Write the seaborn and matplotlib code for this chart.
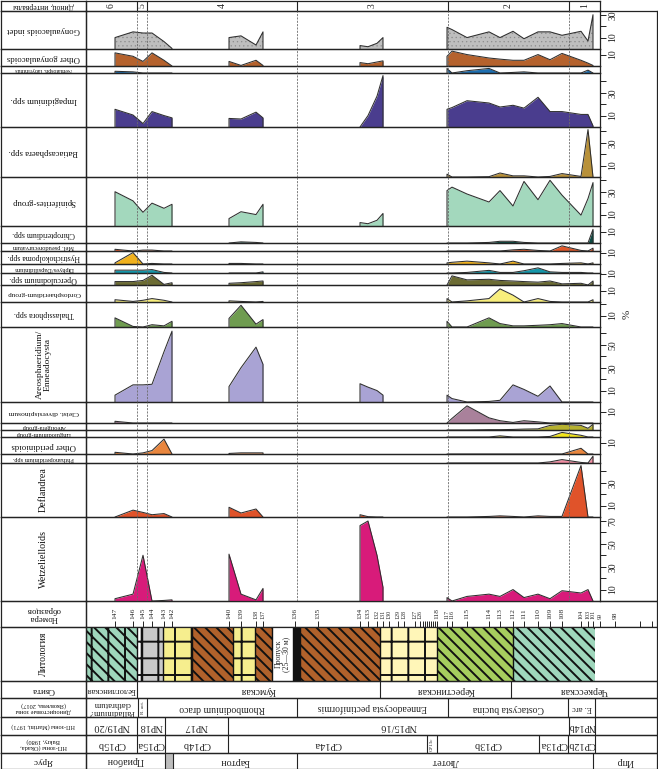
import numpy as np
import matplotlib
matplotlib.use("Agg")
import matplotlib.pyplot as plt
import seaborn as sns

# ------------------------------------------------------------------ data
sample_numbers = [147, 146, 145, 144, 143, 142, 140, 139, 138, 137, 136, 135,
                  134, 133, 132, 131, 130, 129, 128, 127, 126, 125, 124, 123,
                  122, 121, 120, 119, 118, 117, 116, 115, 114, 113, 112, 111,
                  110, 109, 108, 104, 103, 101, 99, 98, 97, 96]
sample_pos = [115, 133, 143, 152, 164, 172, 229, 241, 256, 263, 295, 318,
              360, 368, 377, 383, 389, 398, 404, 415, 420, 423, 425, 427,
              429, 431, 433, 435, 437, 447, 452, 467, 489, 500, 513, 524,
              538, 550, 562, 581, 588, 593, 600, 615, 640, 652]
unlabeled_samples = [125, 124, 123, 122, 121, 120, 119, 97, 96]

group_a = [147, 146, 145, 144, 143, 142]
group_b = [140, 139, 138, 137]
group_c = [134, 133, 132, 131]
group_d = [117, 116, 115, 114, 113, 112, 111, 110, 109, 108, 104, 103, 101]

taxa = ["Gonyaulacoids indet", "Other gonyaulacoids", "Nematosph. labyrinthus",
        "Impagidinium spp.", "Batiacasphaera spp.", "Spiniferites-group",
        "Chiropteridium spp.", "Mel. pseudorecurvatum", "Hystrichokolpoma spp.",
        "Diphyes/Dapsilidinium", "Operculodinium spp.", "Cordosphaeridium-group",
        "Thalassiphora spp.", "Areosphaeridium/\nEnneadocysta",
        "Cleist. diversispinosum", "Areoligera-group", "Lingulodinium-group",
        "Other peridinioids", "Phthanoperidinium spp.", "Deflandrea",
        "Wetzelielloids"]

#            group A                         group B               group C            group D
gony_indet = [10, 15, 14, 14, 6.5, 0.5,      10, 11.5, 3.5, 15,    3, 2, 5, 10,       19, 17, 10, 15, 10, 15.5, 9, 15, 15, 12, 15.5, 7, 30]
other_gony = [11.5, 8.5, 4, 11.5, 5, 0,      4, 0.5, 5, 0.5,       3, 2, 3.5, 4.5,    8.5, 13, 10, 7, 6, 5, 5, 10, 5.5, 11, 5, 2.5, 0.5]
nematosph = [1.5, 1, 0, 0, 0, 0,             0, 0, 0, 0,           0, 0, 0, 0,        4, 0, 2, 4, 0, 0.5, 1, 0, 0, 0, 0, 2.5, 0]
impagid = [15.5, 10.5, 3, 13.5, 10, 8,       7.5, 7, 13, 8,        0, 10, 27, 45,     15.5, 17, 23, 21, 17.5, 19, 16.5, 26, 13.5, 13.5, 11, 11, 1]
batiac = [0, 0, 0, 0, 0, 0,                  0, 0, 0, 0,           0, 0, 0, 0,        2.5, 0, 0, 0.3, 3.5, 1, 1, 0, 0.5, 3, 0.5, 41.5, 0]
spinif = [30, 22, 12, 20, 15.5, 19,          6.5, 12.5, 10, 19,    3, 2, 5, 11,       31, 34, 28, 21, 31, 17.5, 39, 23, 40, 27, 9.5, 24, 38]
chiropt = [0, 0, 0, 0, 0, 0,                 0, 1, 0.5, 0,         0, 0, 0, 0,        0, 0, 0, 0.5, 1.5, 1.5, 0.5, 0, 0, 0, 0, 0, 12]
mel_pseudo = [1.5, 0, 0.8, 0.8, 0, 0,        0, 0, 0, 0,           0, 0, 0, 0,        0, 0, 0, 0, 0, 1, 1.5, 0.5, 0, 4.5, 0.5, 0, 2.5]
hystricho = [1, 10, 0, 0.5, 0, 0,            0.5, 0.5, 0, 0,       0, 0, 0, 0,        1, 1.5, 2.5, 1, 0, 2.5, 0, 0, 0, 0.5, 1, 0, 1]
dapsil = [2.5, 2.5, 2.5, 3, 0.5, 0,          0, 0, 0, 1,           0, 0, 0, 0,        0, 0, 0.5, 2.3, 0.5, 0.5, 2, 4.5, 1, 0.5, 0.5, 0, 0]
opercul = [3, 3, 4, 8.5, 0.5, 2,             1.5, 2, 3, 3.5,       0, 0, 0, 0,        0, 8, 4.5, 5, 4, 3.5, 3, 2.5, 3.5, 1, 1.5, 0, 3.5]
cordosph = [2, 0.5, 1.5, 3, 1.5, 0,          1, 0.5, 0, 0.5,       0, 0, 0, 0,        3, 0, 1, 3, 11.5, 6, 0, 3, 0.5, 0, 0, 0, 2]
thalass = [8, 0.5, 0, 2, 1, 5,               7.5, 19, 2.5, 6.5,    0, 0, 0, 0,        5, 0, 0, 8, 3, 1, 1, 1.5, 2, 3, 0, 0, 0]
areosph = [6, 15, 15, 15.5, 44, 62,          13.5, 30, 48, 33,     16, 13, 10, 6,     6, 3, 0, 0.5, 1.5, 15, 11, 5, 14, 0, 0, 0, 0]
cleist = [1.5, 0, 0, 0, 0, 0,                0, 0, 0, 0,           0, 0, 0, 0,        0, 4, 15, 4.5, 2, 0.5, 2, 1, 0, 0, 0, 0, 0]
areolig = [0, 0, 0, 0, 0, 0,                 0, 0, 0, 0,           0, 0, 0, 0,        0, 0, 0, 0.3, 0.3, 0.5, 0.8, 1, 4, 5, 4, 1.5, 5]
lingulo = [0, 0, 0, 0, 0, 0,                 0, 0, 0, 0,           0, 0, 0, 0,        0, 0, 0, 0, 1, 0, 0, 0, 0.5, 4, 1.5, 0, 0]
other_peri = [1.5, 0, 1, 3, 13, 0,           0.5, 1, 1, 1,         0, 0, 0, 0,        0, 0, 0, 0, 0, 0, 0, 0, 0, 0, 5, 0, 0]
phthano = [0, 0, 0, 0, 0, 0,                 0, 0, 0, 0,           0, 0, 0, 0,        0, 0, 0, 0, 0, 0, 0, 0, 1, 3, 0.5, 0, 6]
deflandrea = [0, 6, 4, 2, 3, 0,              8.5, 3.5, 7, 0,       2, 0.3, 0, 0,      0, 0, 0, 0.5, 1, 0.5, 0, 1, 0.5, 0.5, 45, 0, 0]
wetzel = [2, 6, 40, 0, 0.5, 1,               41, 6, 1, 11,         66, 70, 40, 12,    3, 0, 4, 6, 4, 10, 3, 6, 2, 9, 7, 10, 0]

values = [gony_indet, other_gony, nematosph, impagid, batiac, spinif, chiropt,
          mel_pseudo, hystricho, dapsil, opercul, cordosph, thalass, areosph,
          cleist, areolig, lingulo, other_peri, phthano, deflandrea, wetzel]

interval_names = ["6", "5", "4", "3", "2", "1"]
interval_edges = [86, 137, 147, 297, 448, 569, 600]

litho_edges = [86, 137, 142, 163, 192, 233, 255, 272, 293, 300, 380, 437, 513, 595, 657]
litho_types = ["clay_mint_dash", "lime_white", "lime_gray", "lime_yellow", "marl",
               "lime_yellow", "marl", "gap", "black", "marl", "lime_pale",
               "clay_green", "clay_mint", "none"]

svita_edges = [86, 137, 380, 511, 657]
svita_names = ["Белоглинская", "Кумская", "Керестинская", "Черкесская"]
dino_edges = [86, 138, 147, 297, 448, 568, 595, 657]
dino_names = ["Palladinium?\nclathratum", "R. act.", "Rhombodinium draco",
              "Enneadocysta pectiniformis", "Costacysta bucina", "E. arc", ""]
martini_edges = [86, 137, 165, 228, 569, 595, 657]
martini_names = ["NP19/20", "NP18", "NP17", "NP15/16", "NP14b", ""]
okada_edges = [86, 137, 165, 228, 427, 437, 539, 568, 595, 657]
okada_names = ["CP15b", "CP15a", "CP14b", "CP14a", "CP13c", "CP13b", "CP13a", "CP12b", ""]
stage_edges = [86, 165, 173, 297, 593, 657]
stage_names = ["Приабон", "", "Бартон", "Лютет", "Ипр"]

# ------------------------------------------------------------------ style / layout
sns.set_theme(style="white")
plt.rcParams["font.family"] = ["Liberation Serif", "DejaVu Serif"]
plt.rcParams["axes.linewidth"] = 0.9
LC = "#232323"

colors = ["#BEBEBE", "#B5622D", "#1E6FB0", "#4A3D8E", "#B8913A", "#A3D8BD",
          "#0D4C44", "#E0582A", "#F0B11E", "#1596A9", "#6C6C34", "#F8EE7C",
          "#6F9C50", "#A9A3D4", "#A9819B", "#B6B12F", "#F3E51B", "#E9863E",
          "#F18DA2", "#E0532A", "#D81B7A"]
panel_bounds = [11, 49, 66, 73, 127, 177, 226, 243, 251, 264, 273, 285, 302,
                327, 402, 423, 430, 437, 454, 463, 517, 601]
label_rot = [180] * 13 + [90] + [180] * 5 + [90, 90]
label_fs = [6.3, 6.3, 4.2, 6.3, 6.3, 6.3, 5.6, 4.6, 5.6, 4.6, 5.8, 5.2, 5.8,
            6.8, 5.4, 4.6, 4.6, 6.3, 4.6, 7.2, 7.2]
PX_PER_PCT = 80 / 70.0

W, H = 658, 769
fig = plt.figure(figsize=(W / 100, H / 100), dpi=100)
fig.patch.set_facecolor("white")


def px_axes(x0, y0, x1, y1, z=1):
    ax = fig.add_axes([x0 / W, 1 - y1 / H, (x1 - x0) / W, (y1 - y0) / H], zorder=z)
    ax.patch.set_alpha(0)
    return ax


def boxed(ax):
    for s in ax.spines.values():
        s.set_visible(True)
        s.set_color(LC)
        s.set_linewidth(0.9)
    ax.set_xticks([])
    ax.set_yticks([])


def label_cell(y0, y1, text, rot, fs):
    lax = px_axes(1, y0, 86, y1)
    boxed(lax)
    lax.set_xlim(0, 1)
    lax.set_ylim(0, 1)
    lax.text(0.5, 0.5, text, rotation=rot, ha="center", va="center",
             fontsize=fs, color="#111", linespacing=1.0)


pos_of = dict(zip(sample_numbers, sample_pos))
groups = [group_a, group_b, group_c, group_d]
counted = group_a + group_b + group_c + group_d

# outer frame (right margin with % ticks)
frame = px_axes(600, 11, 657, 601, z=0)
boxed(frame)
frame.spines["left"].set_visible(False)
frame.text(0.47, 0.485, "%", rotation=90, ha="center", va="center",
           fontsize=8, transform=frame.transAxes)

# header row: dinocyst intervals
hax = px_axes(86, 0.5, 600, 11)
boxed(hax)
hax.set_xlim(86, 600)
hax.set_ylim(0, 1)
hax.vlines(interval_edges[1:-1], 0, 1, color=LC, lw=0.8)
for a, b, n in zip(interval_edges[:-1], interval_edges[1:], interval_names):
    hax.text((a + b) / 2, 0.5, n, rotation=90, ha="center", va="center", fontsize=7)
label_cell(0.5, 11, "Диноц. интервалы", 180, 5.6)

# taxon panels
for i, (name, vals, col) in enumerate(zip(taxa, values, colors)):
    y0, y1 = panel_bounds[i], panel_bounds[i + 1]
    top = (y1 - y0) / PX_PER_PCT
    ax = px_axes(86, y0, 600, y1, z=2)
    boxed(ax)
    ax.set_xlim(86, 600)
    ax.set_ylim(0, top)
    lookup = dict(zip(counted, vals))
    for g in groups:
        xs = np.array([pos_of[s] for s in g], float)
        ys = np.array([lookup[s] for s in g], float)
        if ys.max() <= 0:
            continue
        plt.rcParams["hatch.linewidth"] = 0.4
        if i == 0:
            ax.fill_between(xs, 0, ys, facecolor=col, edgecolor="#8C8C8C",
                            hatch="....", lw=0, zorder=2)
        else:
            ax.fill_between(xs, 0, ys, color=col, lw=0, zorder=2)
        sns.lineplot(x=np.r_[xs[0], xs, xs[-1]], y=np.r_[0, ys, 0], sort=False,
                     estimator=None, ax=ax, color="#2E2E2E", lw=0.75, zorder=3)
    for e in interval_edges[1:-1]:
        ax.axvline(e, color="#6A6A6A", lw=0.6, ls=(0, (2.5, 1.5)), zorder=4)
    ax.set_xlabel("")
    ax.set_ylabel("")
    ticks = [t for t in range(10, 80, 10) if t <= top + 0.3]
    ax.yaxis.tick_right()
    ax.set_yticks(ticks)
    ax.set_yticklabels([str(t) if t in (10, 30, 50, 70) else "" for t in ticks],
                       rotation=90, fontsize=7, va="center")
    ax.tick_params(axis="y", which="both", direction="out", length=4, width=0.7,
                   pad=2, colors="#222", right=True, left=False)
    ax.set_xticks([])
    label_cell(y0, y1, name, label_rot[i], label_fs[i])

# sample numbers row
nax = px_axes(86, 601, 657, 627)
boxed(nax)
nax.set_xlim(86, 657)
nax.set_ylim(0, 1)
nax.vlines(sample_pos, 0, 0.24, color=LC, lw=0.7)
shown = [(n, p) for n, p in zip(sample_numbers, sample_pos) if n not in unlabeled_samples]
for k, (n, p) in enumerate(shown):
    gaps = []
    if k > 0:
        gaps.append(p - shown[k - 1][1])
    if k < len(shown) - 1:
        gaps.append(shown[k + 1][1] - p)
    fs = 5.4 if min(gaps) >= 8 else 4.3
    nax.text(p, 0.3, str(n), rotation=90, ha="center", va="bottom", fontsize=fs)
label_cell(601, 627, "Номера\nобразцов", 180, 6.3)

# lithology row
litho_style = {
    "clay_mint": ("#9FD6BC", "\\\\\\"), "clay_mint_dash": ("#9FD6BC", "\\\\\\|"),
    "clay_green": ("#A6CE5E", "\\\\\\"),
    "marl": ("#B0612B", "\\\\\\"), "lime_yellow": ("#F6EE8E", "+"),
    "lime_pale": ("#FFF6B8", "+"), "lime_gray": ("#C9C9C9", "+"),
    "lime_white": ("#FFFFFF", "+"), "gap": ("#FFFFFF", ""),
    "black": ("#111111", ""), "none": ("#FFFFFF", ""),
}
lax = px_axes(86, 627, 657, 681)
boxed(lax)
lax.set_xlim(86, 657)
lax.set_ylim(0, 1)
plt.rcParams["hatch.linewidth"] = 1.4
for a, b, t in zip(litho_edges[:-1], litho_edges[1:], litho_types):
    fc, h = litho_style[t]
    lax.axvspan(a, b, facecolor=fc, edgecolor="#111", hatch=h, lw=0)
    if t == "gap":
        lax.text((a + b) / 2, 0.5, "Пропуск\n(25—30 м)", rotation=90,
                 ha="center", va="center", fontsize=5.6, linespacing=1.0)
lax.vlines(litho_edges[1:-2], 0, 1, color="#111", lw=1.0)
label_cell(627, 681, "Литология", 90, 7)


def cell_row(y0, y1, edges, names, fs, label, lfs, shade=None):
    ax = px_axes(86, y0, 657, y1)
    boxed(ax)
    ax.set_xlim(86, 657)
    ax.set_ylim(0, 1)
    ax.vlines(edges[1:-1], 0, 1, color=LC, lw=0.8)
    for a, b, n in zip(edges[:-1], edges[1:], names):
        w = b - a
        if n == "" and shade:
            ax.axvspan(a, b, color=shade, lw=0)
            continue
        if w < 14:
            ax.text((a + b) / 2, 0.5, n, rotation=90, ha="center", va="center",
                    fontsize=3.6)
            continue
        longest = max(len(s) for s in n.split("\n")) if n else 1
        f = min(fs, (w - 3) / (longest * 0.47 * 1.39))
        ax.text((a + b) / 2, 0.47, n, rotation=180, ha="center", va="center",
                fontsize=f, linespacing=0.95)
    label_cell(y0, y1, label, 180, lfs)


cell_row(681, 698, svita_edges, svita_names, 7.2, "Свита", 6.3)
cell_row(698, 717, dino_edges, dino_names, 7.0,
         "Диноцистовые зоны\n(Яковлева, 2017)", 4.6)
cell_row(717, 735, martini_edges, martini_names, 7.5, "НП-зоны (Martini, 1971)", 4.4)
cell_row(735, 753, okada_edges, okada_names, 7.5, "НП-зоны (Okada,\nBukry, 1980)", 4.6)
cell_row(753, 768.5, stage_edges, stage_names, 7.2, "Ярус", 6.6, shade="#BDBDBD")

fig.savefig("out.png", dpi=100, facecolor="white")
